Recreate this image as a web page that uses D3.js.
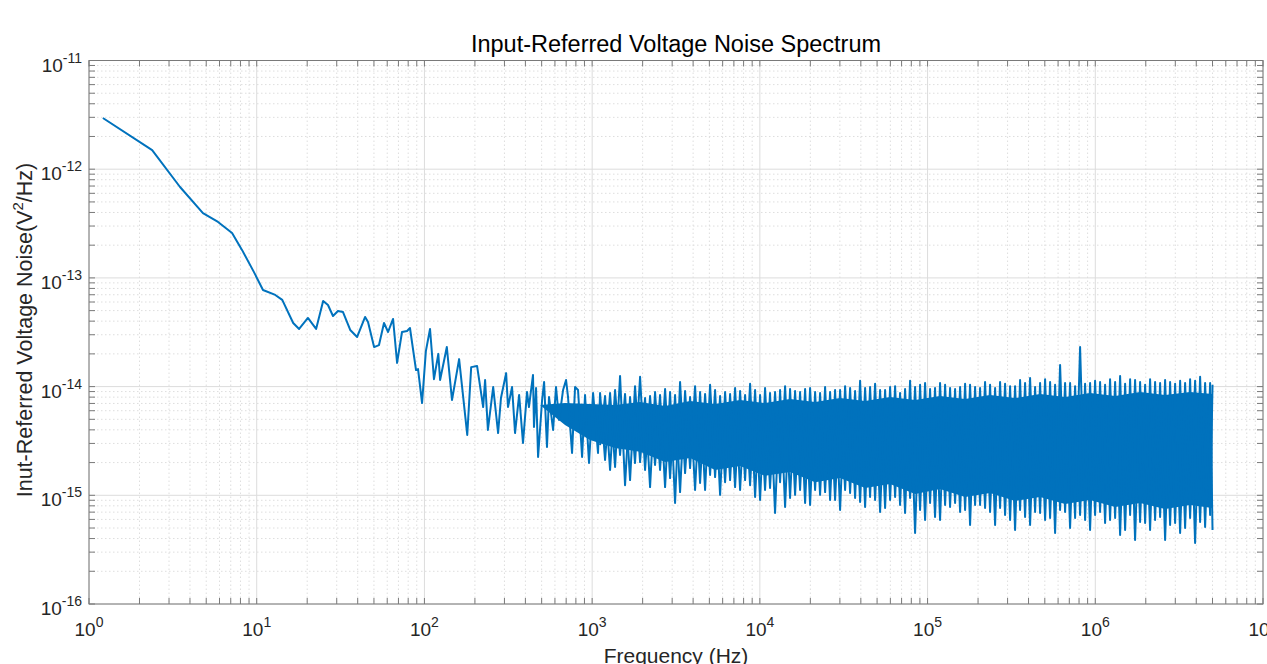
<!DOCTYPE html>
<html>
<head>
<meta charset="utf-8">
<script src="https://cdn.jsdelivr.net/npm/d3@7"></script>
<style>
  body { margin: 0; background: #fff; }
  text { font-family: "Liberation Sans", Arial, Helvetica, sans-serif; fill: #262626; }
</style>
</head>
<body>
<svg id="chart" width="1267" height="664"></svg>
<script>
// smooth low-frequency part of the spectrum (Hz, V^2/Hz)
const lowFreq = [1.21, 2.38, 3.49, 4.78, 5.88, 7.13, 8.17, 9.63, 10.9, 12.9, 14.2, 16.5, 17.9, 20.2, 22.6,
  24.9, 26.6, 28.5, 30.5, 32.7, 36.1, 39.7, 44.3, 46.1, 50.1, 53.6, 57.4, 60.7, 65.0, 68.7, 73.5, 78.8,
  82.0, 89.1, 91.6, 96.8, 102, 108, 114, 121, 124, 136, 146, 161, 180, 190, 206, 224, 230, 239, 257, 275];
const lowPsd = [2.96e-12, 1.50e-12, 6.86e-13, 3.95e-13, 3.27e-13, 2.59e-13, 1.81e-13, 1.13e-13, 7.74e-14,
  6.97e-14, 6.27e-14, 3.85e-14, 3.39e-14, 4.28e-14, 3.39e-14, 6.13e-14, 5.63e-14, 4.46e-14, 4.96e-14,
  4.85e-14, 3.32e-14, 2.86e-14, 4.37e-14, 3.93e-14, 2.31e-14, 2.41e-14, 3.85e-14, 3.18e-14, 4.19e-14,
  1.65e-14, 3.18e-14, 3.25e-14, 3.46e-14, 1.42e-14, 1.45e-14, 7.06e-15, 2.12e-14, 3.39e-14, 1.17e-14,
  2.00e-14, 1.15e-14, 2.31e-14, 7.53e-15, 1.79e-14, 3.59e-15, 1.51e-14, 1.55e-14, 6.49e-15, 1.15e-14,
  3.99e-15, 9.91e-15, 3.74e-15];

// transition region, line starts to get dense
const midFreq = [286, 307, 315, 333, 347, 367, 387, 409, 420, 444, 450, 463, 476, 503, 517, 538, 553, 585,
  609, 635, 671, 699, 718, 759, 791, 824, 871, 907, 958, 1013, 1084];
const midPsd = [7.85e-15, 1.33e-14, 6.49e-15, 9.91e-15, 3.74e-15, 8.38e-15, 3.03e-15, 8.93e-15, 6.49e-15,
  1.28e-14, 4.25e-15, 9.71e-15, 2.25e-15, 7.53e-15, 1.10e-14, 2.78e-15, 8.03e-15, 3.99e-15, 9.91e-15,
  4.93e-15, 9.31e-15, 1.15e-14, 8.03e-15, 2.45e-15, 9.91e-15, 9.31e-15, 2.25e-15, 8.38e-15, 1.98e-15,
  8.74e-15, 2.45e-15];

// high-frequency noise, upper tips (peakFreq) and lower tips (dipFreq) of the first trace
const peakFreq = [1115, 1279, 1467, 1683, 1931, 2215, 2541, 2915, 3344, 3837, 4401, 5049, 5793, 6645, 7623,
  8745, 10030, 11500, 13200, 15140, 17370, 19930, 22860, 26230, 30090, 34520, 39600, 45420, 52110, 59780,
  68550, 78650, 90230, 103500, 118700, 136200, 156300, 179200, 205600, 235900, 270600, 310500, 356100,
  408500, 468700, 537700, 616800, 707500, 811700, 931100, 1068000, 1225000, 1406000, 1613000, 1850000,
  2122000, 2435000, 2793000, 3205000, 3676000, 4217000, 4838000];
const peakPsd = [8.74e-15, 8.74e-15, 1.25e-14, 8.03e-15, 1.23e-14, 8.20e-15, 8.38e-15, 8.93e-15, 1.10e-14,
  8.03e-15, 8.93e-15, 1.04e-14, 8.20e-15, 8.56e-15, 9.12e-15, 1.06e-14, 8.38e-15, 8.74e-15, 9.31e-15,
  9.51e-15, 8.93e-15, 9.71e-15, 8.74e-15, 8.93e-15, 9.31e-15, 9.71e-15, 1.13e-14, 9.91e-15, 9.31e-15,
  9.91e-15, 8.74e-15, 1.13e-14, 1.04e-14, 9.51e-15, 1.08e-14, 9.71e-15, 9.91e-15, 1.04e-14, 9.71e-15,
  1.04e-14, 1.10e-14, 1.01e-14, 1.15e-14, 1.20e-14, 1.08e-14, 1.10e-14, 1.58e-14, 1.08e-14, 2.31e-14,
  1.08e-14, 1.10e-14, 1.17e-14, 1.25e-14, 1.17e-14, 1.10e-14, 1.17e-14, 1.08e-14, 1.10e-14, 1.13e-14,
  1.17e-14, 1.23e-14, 1.08e-14];
const dipFreq = [1194, 1370, 1571, 1802, 2068, 2372, 2722, 3122, 3582, 4109, 4714, 5408, 6204, 7117, 8165,
  9367, 10740, 12320, 14140, 16220, 18610, 21350, 24490, 28090, 32230, 36970, 42410, 48650, 55810, 64030,
  73420, 84240, 96630, 110800, 127200, 145900, 167400, 192000, 220200, 252700, 289800, 332500, 381400,
  437600, 502000, 575900, 660600, 757900, 869400, 997300, 1144000, 1313000, 1506000, 1727000, 1982000,
  2273000, 2608000, 2992000, 3432000, 3937000, 4517000, 5000000];
const dipPsd = [2.11e-15, 1.82e-15, 1.24e-15, 1.98e-15, 1.71e-15, 1.90e-15, 1.19e-15, 8.50e-16, 1.60e-15,
  1.12e-15, 1.12e-15, 1.47e-15, 1.32e-15, 1.19e-15, 1.38e-15, 9.66e-16, 1.12e-15, 6.88e-16, 7.80e-16,
  1.01e-15, 8.50e-16, 1.12e-15, 1.07e-15, 9.06e-16, 1.12e-15, 9.45e-16, 7.80e-16, 9.06e-16, 7.64e-16,
  9.66e-16, 6.88e-16, 4.50e-16, 5.93e-16, 6.31e-16, 8.15e-16, 8.50e-16, 7.33e-16, 8.15e-16, 7.64e-16,
  5.33e-16, 6.59e-16, 4.80e-16, 6.31e-16, 7.03e-16, 5.93e-16, 4.50e-16, 7.03e-16, 6.18e-16, 5.93e-16,
  6.59e-16, 5.56e-16, 6.18e-16, 4.80e-16, 3.88e-16, 5.56e-16, 5.93e-16, 3.88e-16, 5.56e-16, 5.00e-16,
  3.64e-16, 5.11e-16, 4.80e-16];

// second set of tips in between (upper tips on dipFreq, lower tips on peakFreq)
const peak2Psd = [8.20e-15, 9.31e-15, 8.56e-15, 1.01e-14, 7.85e-15, 8.93e-15, 9.51e-15, 8.38e-15, 9.12e-15,
  1.01e-14, 8.56e-15, 9.31e-15, 8.93e-15, 9.71e-15, 8.38e-15, 9.31e-15, 9.71e-15, 8.93e-15, 1.01e-14,
  9.12e-15, 9.51e-15, 8.93e-15, 9.91e-15, 9.31e-15, 1.01e-14, 9.12e-15, 9.71e-15, 1.06e-14, 9.31e-15,
  1.01e-14, 9.51e-15, 9.91e-15, 1.08e-14, 9.71e-15, 1.04e-14, 9.51e-15, 1.06e-14, 9.91e-15, 1.10e-14,
  9.71e-15, 1.06e-14, 1.01e-14, 1.08e-14, 9.91e-15, 1.17e-14, 1.04e-14, 1.08e-14, 1.01e-14, 1.06e-14,
  1.13e-14, 1.04e-14, 1.10e-14, 1.06e-14, 1.15e-14, 1.04e-14, 1.10e-14, 1.15e-14, 1.06e-14, 1.08e-14,
  1.13e-14, 1.08e-14, 1.04e-14];
const dip2Psd = [2.90e-15, 1.71e-15, 2.35e-15, 1.38e-15, 2.02e-15, 1.19e-15, 1.71e-15, 1.44e-15, 1.07e-15,
  1.78e-15, 1.30e-15, 1.54e-15, 1.01e-15, 1.38e-15, 1.12e-15, 1.24e-15, 9.06e-16, 1.17e-15, 1.32e-15,
  9.45e-16, 1.12e-15, 8.15e-16, 1.01e-15, 9.06e-16, 7.33e-16, 1.05e-15, 8.68e-16, 9.66e-16, 7.03e-16,
  9.06e-16, 8.15e-16, 9.45e-16, 7.33e-16, 8.50e-16, 5.93e-16, 7.80e-16, 7.03e-16, 5.33e-16, 8.15e-16,
  7.03e-16, 7.64e-16, 5.93e-16, 7.33e-16, 5.33e-16, 6.88e-16, 6.18e-16, 7.33e-16, 5.00e-16, 6.59e-16,
  4.80e-16, 7.03e-16, 5.93e-16, 4.32e-16, 6.59e-16, 5.68e-16, 4.80e-16, 6.31e-16, 5.33e-16, 4.50e-16,
  6.18e-16, 5.68e-16, 6.59e-16];

// solid core of the noise band
const coreFreq = [489, 689, 971, 1370, 1931, 2722, 3837, 5408, 7623, 10740, 15140, 21350, 30090, 42410, 59780,
  84240, 118700, 167400, 235900, 332500, 468700, 660600, 931100, 1313000, 1850000, 2608000, 3676000, 5000000];
const coreTop = [6.77e-15, 7.06e-15, 6.92e-15, 6.77e-15, 7.22e-15, 6.64e-15, 7.37e-15, 6.92e-15, 7.53e-15,
  7.06e-15, 7.69e-15, 7.22e-15, 7.85e-15, 7.37e-15, 8.03e-15, 7.53e-15, 8.20e-15, 7.69e-15, 8.38e-15,
  7.85e-15, 8.56e-15, 8.03e-15, 8.74e-15, 8.20e-15, 8.93e-15, 8.38e-15, 8.93e-15, 8.56e-15];
const coreBottom = [6.77e-15, 4.44e-15, 3.23e-15, 2.72e-15, 2.51e-15, 2.02e-15, 2.20e-15, 1.71e-15, 1.86e-15,
  1.51e-15, 1.64e-15, 1.32e-15, 1.44e-15, 1.17e-15, 1.27e-15, 1.03e-15, 1.14e-15, 9.66e-16, 1.05e-15,
  8.87e-16, 9.66e-16, 8.32e-16, 9.06e-16, 7.80e-16, 8.50e-16, 7.48e-16, 8.15e-16, 7.64e-16];

const xTickExp = [0, 1, 2, 3, 4, 5, 6, 7];
const yTickExp = [-16, -15, -14, -13, -12, -11];

const pLeft = 89, pRight = 1263, pTop = 60.5, pBottom = 604;
const blue = "#0072BD";
const svg = d3.select("#chart");

const x = d3.scaleLog().domain([1, 1e7]).range([pLeft, pRight]);
const y = d3.scaleLog().domain([1e-16, 1e-11]).range([pBottom, pTop]);

// minor positions 2..9 in each decade
let xMinor = [], yMinor = [];
for (let e = 0; e < 7; e++) for (let k = 2; k <= 9; k++) xMinor.push(k * Math.pow(10, e));
for (let e = -16; e < -11; e++) for (let k = 2; k <= 9; k++) yMinor.push(k * Math.pow(10, e));
const xMajor = xTickExp.map(e => Math.pow(10, e));
const yMajor = yTickExp.map(e => Math.pow(10, e));

// grid
const grid = svg.append("g");
grid.selectAll(".xm").data(xMinor).enter().append("line")
  .attr("x1", d => x(d)).attr("x2", d => x(d)).attr("y1", pTop).attr("y2", pBottom)
  .attr("stroke", "#dedede").attr("stroke-width", 1).attr("stroke-dasharray", "1.5,2.5");
grid.selectAll(".ym").data(yMinor).enter().append("line")
  .attr("x1", pLeft).attr("x2", pRight).attr("y1", d => y(d)).attr("y2", d => y(d))
  .attr("stroke", "#dedede").attr("stroke-width", 1).attr("stroke-dasharray", "1.5,2.5");
grid.selectAll(".xM").data(xMajor).enter().append("line")
  .attr("x1", d => x(d)).attr("x2", d => x(d)).attr("y1", pTop).attr("y2", pBottom)
  .attr("stroke", "#dcdcdc").attr("stroke-width", 1);
grid.selectAll(".yM").data(yMajor).enter().append("line")
  .attr("x1", pLeft).attr("x2", pRight).attr("y1", d => y(d)).attr("y2", d => y(d))
  .attr("stroke", "#dcdcdc").attr("stroke-width", 1);

// data
svg.append("clipPath").attr("id", "clip").append("rect")
  .attr("x", pLeft).attr("y", pTop).attr("width", pRight - pLeft).attr("height", pBottom - pTop);
const plot = svg.append("g").attr("clip-path", "url(#clip)");

const core = coreFreq.map((f, i) => ({ f: f, hi: coreTop[i], lo: coreBottom[i] }));
plot.append("path").datum(core)
  .attr("fill", blue)
  .attr("d", d3.area().x(d => x(d.f)).y0(d => y(d.lo)).y1(d => y(d.hi)));

const line = d3.line().x(d => x(d.f)).y(d => y(d.v));
const byFreq = (a, b) => a.f - b.f;

let pts = [];
lowFreq.forEach((f, i) => pts.push({ f: f, v: lowPsd[i] }));
midFreq.forEach((f, i) => pts.push({ f: f, v: midPsd[i] }));
let hf = [];
peakFreq.forEach((f, i) => hf.push({ f: f, v: peakPsd[i] }));
dipFreq.forEach((f, i) => hf.push({ f: f, v: dipPsd[i] }));
pts = pts.concat(hf.sort(byFreq));

let hf2 = [];
dipFreq.forEach((f, i) => hf2.push({ f: f, v: peak2Psd[i] }));
peakFreq.forEach((f, i) => hf2.push({ f: f, v: dip2Psd[i] }));
hf2.sort(byFreq);

[hf2, pts].forEach(series => {
  plot.append("path").datum(series)
    .attr("fill", "none").attr("stroke", blue).attr("stroke-width", 2)
    .attr("stroke-linejoin", "round")
    .attr("d", line);
});

// axes box + ticks
const axisColor = "#7a7a7a";
svg.append("rect").attr("x", pLeft).attr("y", pTop).attr("width", pRight - pLeft).attr("height", pBottom - pTop)
  .attr("fill", "none").attr("stroke", axisColor).attr("stroke-width", 1);
const tl = 6;
const ticks = svg.append("g").attr("stroke", axisColor).attr("stroke-width", 1);
xMajor.concat(xMinor).forEach(d => {
  ticks.append("line").attr("x1", x(d)).attr("x2", x(d)).attr("y1", pBottom).attr("y2", pBottom - tl);
  ticks.append("line").attr("x1", x(d)).attr("x2", x(d)).attr("y1", pTop).attr("y2", pTop + tl);
});
yMajor.concat(yMinor).forEach(d => {
  ticks.append("line").attr("x1", pLeft).attr("x2", pLeft + tl).attr("y1", y(d)).attr("y2", y(d));
  ticks.append("line").attr("x1", pRight).attr("x2", pRight - tl).attr("y1", y(d)).attr("y2", y(d));
});

// tick labels
xTickExp.forEach(e => {
  const t = svg.append("text").attr("x", x(Math.pow(10, e))).attr("y", 636)
    .attr("text-anchor", "middle").style("font-size", "19px");
  t.append("tspan").text("10");
  t.append("tspan").attr("dy", -9).style("font-size", "14px").text(e);
});
yTickExp.forEach(e => {
  const t = svg.append("text").attr("x", 82).attr("y", y(Math.pow(10, e)) + 11)
    .attr("text-anchor", "end").style("font-size", "19px");
  t.append("tspan").text("10");
  t.append("tspan").attr("dy", -9).style("font-size", "14px").text(e);
});

// titles
svg.append("text").attr("x", (pLeft + pRight) / 2).attr("y", 52).attr("text-anchor", "middle")
  .style("font-size", "23.5px").style("fill", "#000").text("Input-Referred Voltage Noise Spectrum");
svg.append("text").attr("x", (pLeft + pRight) / 2).attr("y", 663).attr("text-anchor", "middle")
  .style("font-size", "21px").text("Frequency (Hz)");
const yl = svg.append("text").attr("transform", "translate(32, 330) rotate(-90)")
  .attr("text-anchor", "middle").style("font-size", "21.5px");
yl.append("tspan").text("Inut-Referred Voltage Noise(V");
yl.append("tspan").attr("dy", -9).style("font-size", "15px").text("2");
yl.append("tspan").attr("dy", 9).text("/Hz)");
</script>
</body>
</html>
